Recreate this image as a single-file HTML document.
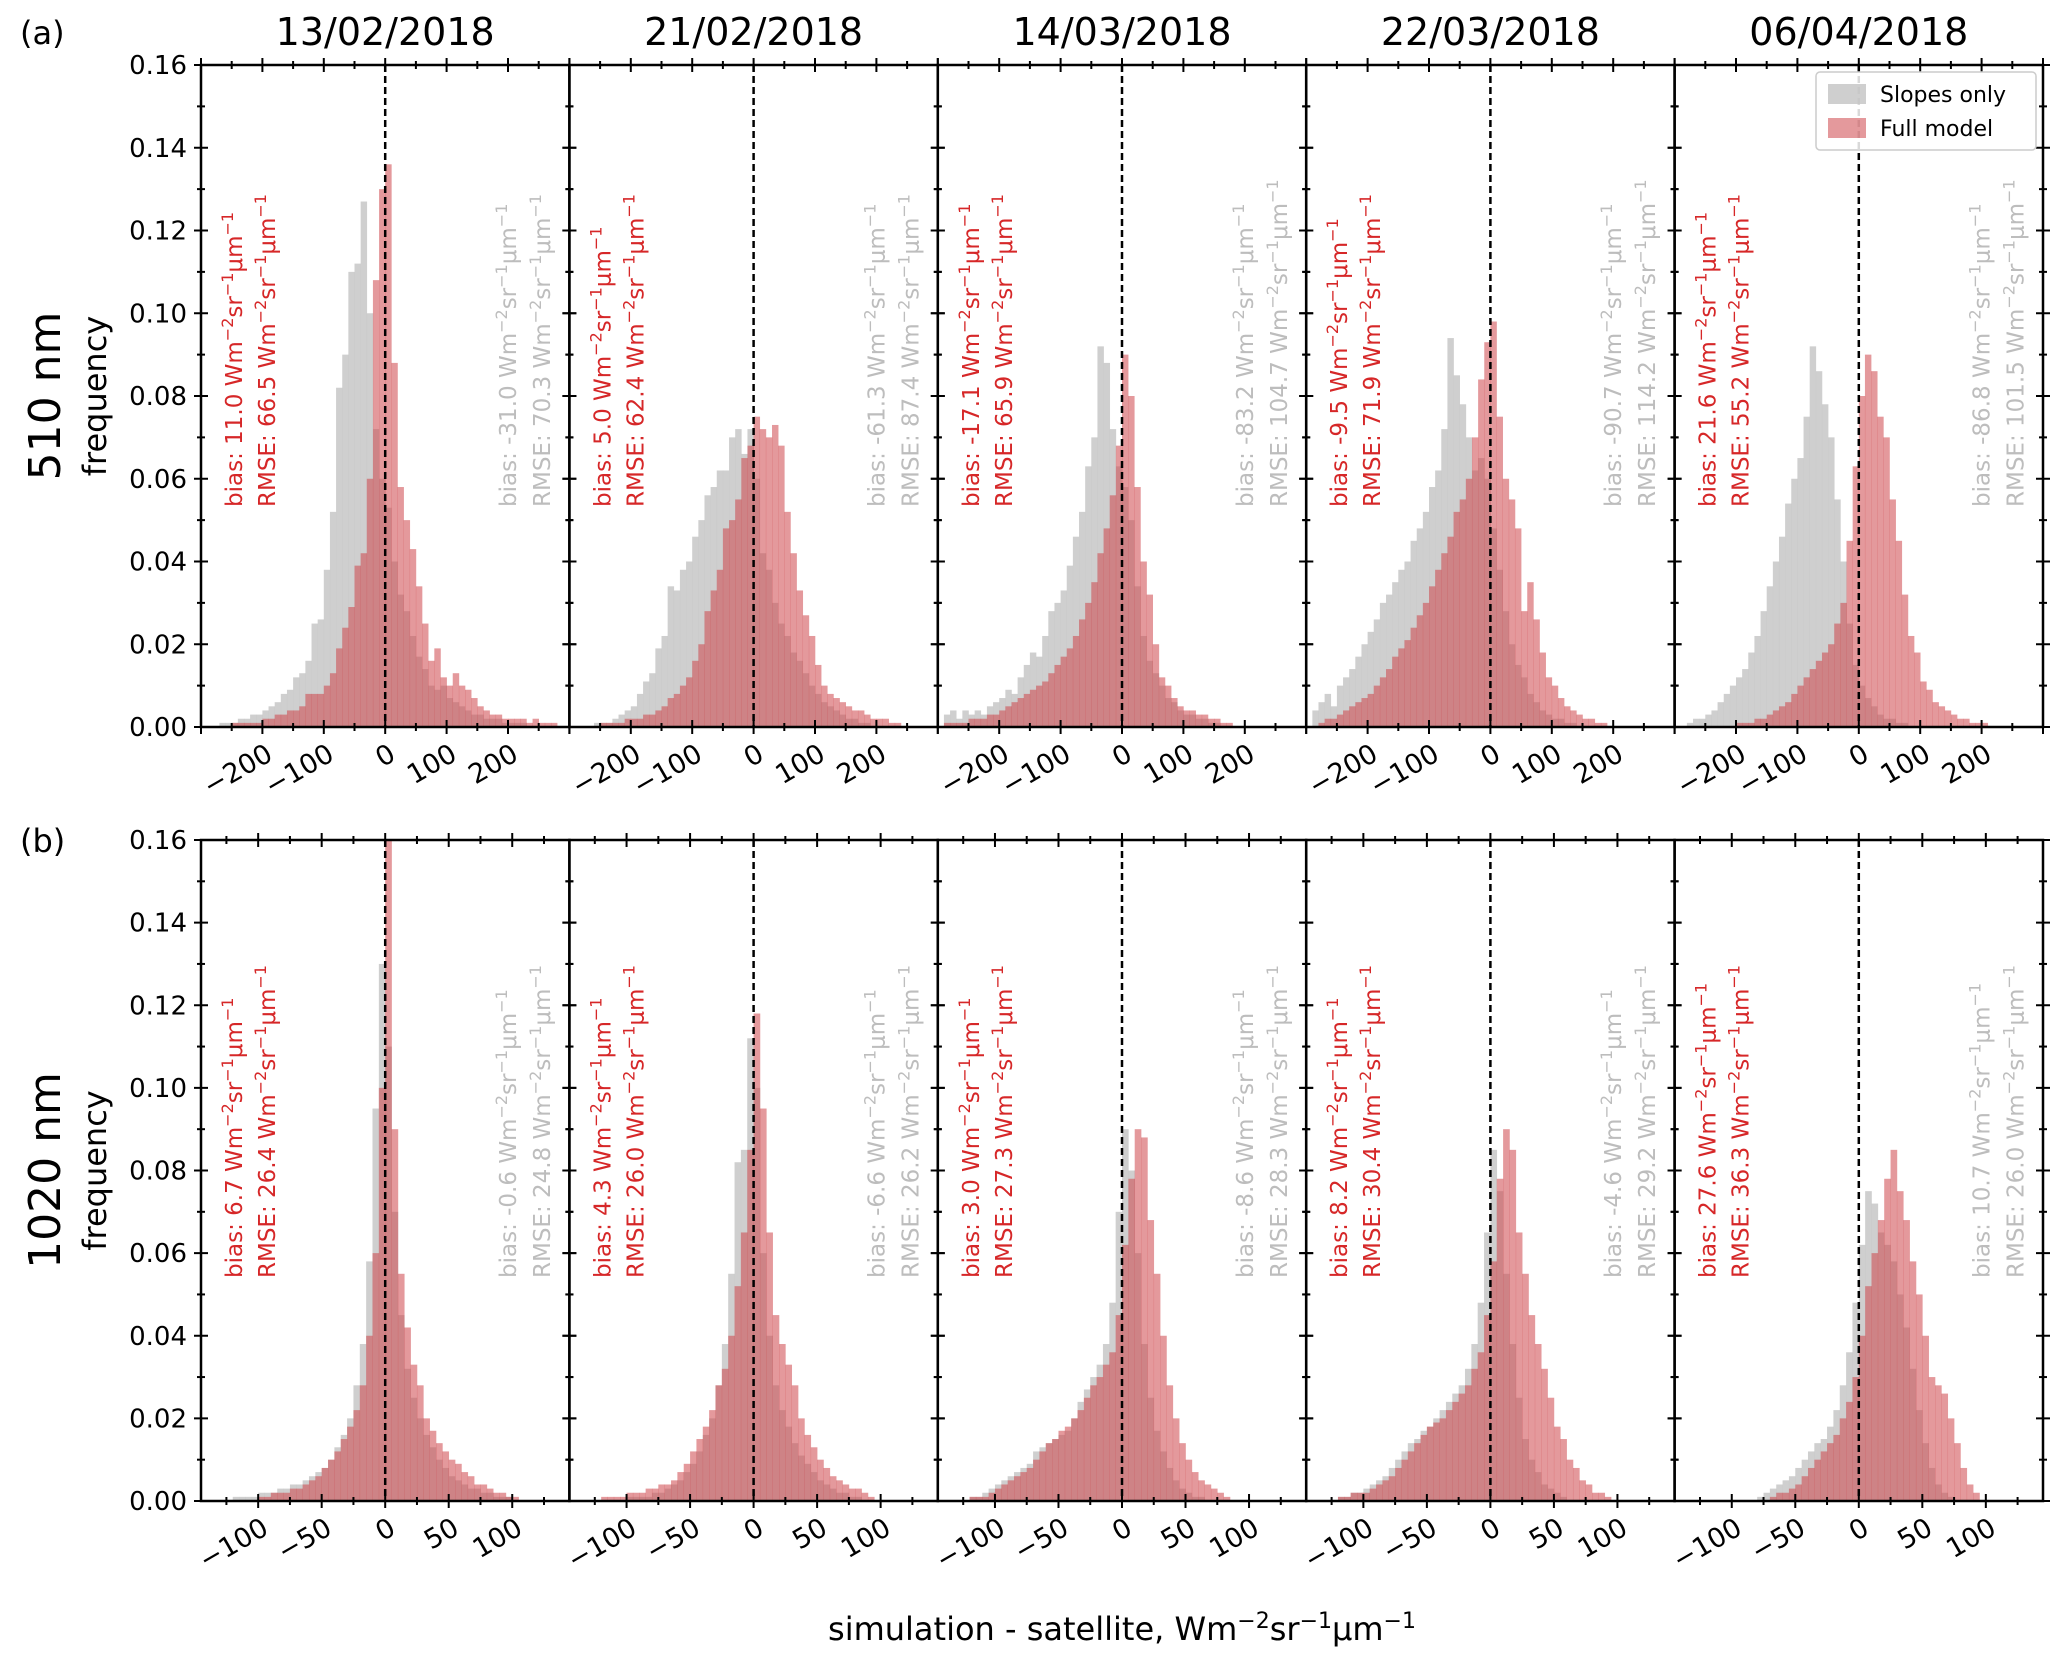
<!DOCTYPE html>
<html><head><meta charset="utf-8"><title>Histograms</title>
<style>
html,body{margin:0;padding:0;background:#fff;}
svg{display:block;font-family:"DejaVu Sans","Liberation Sans",sans-serif;}
</style></head>
<body>
<svg id="fig" xmlns="http://www.w3.org/2000/svg" width="2067" height="1669" viewBox="0 0 2067 1669"></svg>
<script>
// ---- data ----
const dates = ["13/02/2018","21/02/2018","14/03/2018","22/03/2018","06/04/2018"];
const rowLabels = ["510 nm","1020 nm"];
const panelLetters = ["(a)","(b)"];
const yTicks = [0,0.02,0.04,0.06,0.08,0.10,0.12,0.14,0.16];
const yTickLabels = ["0.00","0.02","0.04","0.06","0.08","0.10","0.12","0.14","0.16"];
const xTicks1 = [-200,-100,0,100,200];
const xTicks2 = [-100,-50,0,50,100];
// row1 bins: start -300, width 10 ; row2 bins: start -150, width 5 ; values in 1/1000
const bin1 = [-300,10];
const bin2 = [-150,5];
const a1Gray=[0,0,0,1,1,1,2,2,3,3,4,5,6,8,9,12,13,16,25,26,38,52,82,90,110,112,127,100,72,60,53,40,32,28,22,17,14,10,9,10,7,6,5,4,3,3,2,2,2,1,1,1,1];
const a1Red=[0,0,0,0,0,1,1,1,1,1,2,2,3,3,4,4,5,8,8,8,10,13,19,24,29,39,42,60,108,130,136,88,58,50,43,34,25,16,19,12,10,13,10,9,7,5,4,3,3,2,2,2,2,1,2,1,1,1,0,0];
const a2Gray=[0,0,0,0,1,1,1,2,3,4,5,8,11,13,19,22,34,33,38,40,46,50,56,58,62,62,70,72,66,72,60,42,38,30,25,22,18,16,13,10,8,6,5,4,3,2,2,1,1,0];
const a2Red=[0,0,0,0,0,1,1,1,1,2,2,2,3,3,4,5,7,8,10,12,16,20,28,33,38,48,50,55,65,68,75,72,70,73,68,52,42,33,27,22,15,10,8,7,6,5,4,4,3,2,2,2,1,1];
const a3Gray=[0,3,4,2,4,3,4,3,5,6,7,9,8,12,15,18,17,22,28,30,33,39,46,52,63,70,92,88,72,63,58,50,34,22,16,13,10,7,6,4,3,3,2,2,1,1];
const a3Red=[0,1,1,1,1,2,2,2,3,3,4,5,6,7,8,9,10,11,13,15,17,19,22,26,30,35,42,48,56,68,90,80,58,40,32,20,12,10,7,5,4,4,3,3,2,2,1,1];
const a4Gray=[0,4,6,8,5,10,12,14,17,20,23,26,30,32,35,38,40,45,48,52,58,62,72,94,85,78,70,62,65,60,48,38,28,20,15,12,8,6,4,3,2,2,1,1];
const a4Red=[0,0,1,2,2,3,4,5,6,7,8,10,12,14,17,19,21,24,27,30,34,38,42,46,52,55,60,70,84,93,98,75,60,55,48,28,35,26,18,12,10,7,5,4,3,2,2,1,1];
const a5Gray=[0,0,1,2,2,3,4,6,8,10,12,14,18,22,28,34,40,46,54,60,65,75,92,86,78,70,55,40,25,15,10,7,5,3,2,2,1,1];
const a5Red=[0,0,0,0,0,0,0,0,0,0,1,1,1,2,2,3,4,5,6,8,10,12,14,16,18,20,25,30,45,63,80,90,86,75,70,55,45,32,22,18,11,9,6,5,4,3,2,2,1,1,1];
const b1Gray=[0,0,0,0,0,0,1,1,1,1,2,2,2,3,3,4,4,5,6,7,8,10,13,16,20,28,38,58,95,130,110,70,45,32,25,20,16,13,10,8,6,5,4,3,3,2,2,1,1,1];
const b1Red=[0,0,0,0,0,0,0,0,0,0,1,1,2,2,2,3,3,4,5,6,8,10,12,15,18,22,28,40,60,100,160,90,55,42,33,28,20,17,14,12,10,9,7,6,4,4,3,2,2,1,1];
const b2Gray=[0,0,0,0,0,0,0,0,0,0,1,1,1,1,2,2,3,4,5,7,9,12,16,20,28,38,55,82,85,112,100,60,40,28,22,18,14,11,9,7,5,4,3,2,2,1,1];
const b2Red=[0,0,0,0,0,0,1,1,1,1,2,2,2,3,3,4,4,5,7,9,12,15,18,22,28,32,40,52,65,85,118,95,65,45,38,33,28,20,16,13,10,8,6,5,4,3,3,2,1];
const b3Gray=[0,0,0,0,0,0,1,1,2,3,4,5,6,7,8,9,12,13,14,15,16,17,20,24,27,30,33,38,48,70,90,80,60,38,25,17,12,8,5,3,2,1,1];
const b3Red=[0,0,0,0,0,0,1,1,1,2,3,4,5,6,7,8,10,12,14,15,17,18,20,22,25,28,30,33,36,45,62,78,90,88,68,55,40,28,20,14,10,7,5,4,3,2,1];
const b4Gray=[0,0,0,0,0,0,1,1,2,2,3,4,5,6,8,10,12,14,15,17,18,20,22,24,26,28,32,38,48,65,85,75,55,38,25,15,10,7,4,3,2,1];
const b4Red=[0,0,0,0,0,0,1,1,2,2,2,3,4,5,6,8,10,12,14,16,18,19,20,22,24,26,28,32,36,45,58,78,90,85,65,55,45,38,32,25,18,15,10,8,5,4,2,2,1];
const b5Gray=[0,0,0,0,0,0,0,0,0,0,0,0,0,0,1,2,3,4,5,6,8,10,12,14,15,18,22,28,36,48,62,75,72,65,62,58,50,42,32,22,14,8,4,2,1];
const b5Red=[0,0,0,0,0,0,0,0,0,0,0,0,0,0,0,0,1,2,2,3,4,6,8,10,12,14,16,20,24,30,40,52,60,68,78,85,75,68,58,50,40,30,28,26,20,14,8,4,2];
const grayRows=[[a1Gray,a2Gray,a3Gray,a4Gray,a5Gray],[b1Gray,b2Gray,b3Gray,b4Gray,b5Gray]];
const redRows=[[a1Red,a2Red,a3Red,a4Red,a5Red],[b1Red,b2Red,b3Red,b4Red,b5Red]];
const redBias=[["11.0","5.0","-17.1","-9.5","21.6"],["6.7","4.3","3.0","8.2","27.6"]];
const redRmse=[["66.5","62.4","65.9","71.9","55.2"],["26.4","26.0","27.3","30.4","36.3"]];
const grayBias=[["-31.0","-61.3","-83.2","-90.7","-86.8"],["-0.6","-6.6","-8.6","-4.6","10.7"]];
const grayRmse=[["70.3","87.4","104.7","114.2","101.5"],["24.8","26.2","28.3","29.2","26.0"]];

// ---- layout ----
const NS="http://www.w3.org/2000/svg";
const svg=document.getElementById('fig');
const L0=201, PW=368.4;
const rowsGeom=[{top:65,bot:727,xmin:-300,xmax:300,ticks:xTicks1,minor:50,bins:bin1},
                {top:840,bot:1501,xmin:-145,xmax:145,ticks:xTicks2,minor:25,bins:bin2}];
function mk(tag,attrs,parent){const e=document.createElementNS(NS,tag);for(const k in attrs)e.setAttribute(k,attrs[k]);(parent||svg).appendChild(e);return e;}
function fmt(v){return String(v).replace('-','\u2212');}

function unitText(parent,prefix,val,x,y,color,name){
  const t=mk('text',{transform:`translate(${x},${y}) rotate(-90)`,fill:color,'font-size':23},parent);
  
  
  const parts=[[prefix+val+' Wm',0,23],['\u22122',-9,16],['sr',9,23],['\u22121',-9,16],['\u03bcm',9,23],['\u22121',-9,16]];
  parts.forEach(p=>{const s=mk('tspan',{dy:p[1],'font-size':p[2]},t);s.textContent=p[0];});
}

rowsGeom.forEach((g,r)=>{
  const H=g.bot-g.top;
  const yS=v=>g.bot-v/0.16*H;
  for(let c=0;c<5;c++){
    const left=L0+c*PW, right=left+PW;
    const xS=v=>left+(v-g.xmin)/(g.xmax-g.xmin)*PW;
    const grp=mk('g',{});
    
    
    const clipId=`clip${r}${c}`;
    const cp=mk('clipPath',{id:clipId},grp);mk('rect',{x:left,y:g.top,width:PW,height:H},cp);
    const bars=mk('g',{'clip-path':`url(#${clipId})`},grp);
    [[grayRows[r][c],'rgb(196,196,196)',0.82,'gray-bar'],[redRows[r][c],'rgb(205,70,75)',0.55,'red-bar']].forEach(([arr,col,op,nm])=>{
      arr.forEach((v,i)=>{ if(!v) return;
        const x0=g.bins[0]+i*g.bins[1], x1=x0+g.bins[1];
        const b=mk('rect',{x:xS(x0),y:yS(v/1000),width:xS(x1)-xS(x0)+0.3,height:g.bot-yS(v/1000),fill:col,'fill-opacity':op},bars);
        
        
      });
    });
    const zl=mk('line',{x1:xS(0),x2:xS(0),y1:g.top,y2:g.bot,stroke:'#000','stroke-width':2.5,'stroke-dasharray':'7,4'},grp);
    
    
    mk('rect',{x:left,y:g.top,width:PW,height:H,fill:'none',stroke:'#000','stroke-width':2.5},grp);
    for(let k=0;k<=16;k++){const v=k*0.01,y=yS(v),len=(k%2===0)?7:4;
      mk('line',{x1:left-len,x2:left+len,y1:y,y2:y,stroke:'#000','stroke-width':2},grp);
      mk('line',{x1:right-len,x2:right+len,y1:y,y2:y,stroke:'#000','stroke-width':2},grp);}
    for(let v=Math.ceil(g.xmin/g.minor)*g.minor;v<=g.xmax;v+=g.minor){const x=xS(v),len=(v%(g.minor*2)===0)?7:4;
      mk('line',{x1:x,x2:x,y1:g.bot-len,y2:g.bot+len,stroke:'#000','stroke-width':2},grp);
      mk('line',{x1:x,x2:x,y1:g.top-len,y2:g.top+len,stroke:'#000','stroke-width':2},grp);}
    g.ticks.forEach(v=>{const x=xS(v);
      const t=mk('text',{transform:`translate(${x+12},${g.bot+32}) rotate(-30)`,'text-anchor':'end','font-size':27,fill:'#000'},grp);
      t.textContent=fmt(v);
      
      });
    if(c===0){yTicks.forEach((v,k)=>{const t=mk('text',{x:left-14,y:yS(v)+9,'text-anchor':'end','font-size':26,fill:'#000'},grp);
      t.textContent=yTickLabels[k];
      
      });}
    if(r===0){const t=mk('text',{x:left+PW/2,y:45,'text-anchor':'middle','font-size':38,fill:'#000'},grp);t.textContent=dates[c];
      
      }
    const ay=r===0?507:1278;
    unitText(grp,'bias: ',redBias[r][c],left+41,ay,'#d62728','full-model-bias');
    unitText(grp,'RMSE: ',redRmse[r][c],left+74,ay,'#d62728','full-model-rmse');
    unitText(grp,'bias: ',grayBias[r][c],left+315,ay,'#bdbdbd','slopes-bias');
    unitText(grp,'RMSE: ',grayRmse[r][c],left+349,ay,'#bdbdbd','slopes-rmse');
  }
  const cy=(g.top+g.bot)/2;
  const fq=mk('text',{transform:`translate(106,${cy}) rotate(-90)`,'text-anchor':'middle','font-size':32,fill:'#000'});
  fq.textContent='frequency';
  
  
  const rl=mk('text',{transform:`translate(60,${cy}) rotate(-90)`,'text-anchor':'middle','font-size':44,fill:'#000'});
  rl.textContent=rowLabels[r];
  
  
  const pl=mk('text',{x:20,y:r===0?44:852,'font-size':32,fill:'#000'});
  pl.textContent=panelLetters[r];
  
  
});

const lg=mk('g',{});


mk('rect',{x:1816,y:72,width:220,height:78,rx:4,fill:'#fff','fill-opacity':0.85,stroke:'#ccc','stroke-width':1.5},lg);
mk('rect',{x:1828,y:84,width:38,height:20,fill:'rgb(196,196,196)','fill-opacity':0.82},lg);
mk('rect',{x:1828,y:118,width:38,height:20,fill:'rgb(205,70,75)','fill-opacity':0.55},lg);
const l1=mk('text',{x:1880,y:102,'font-size':22,fill:'#000'},lg);l1.textContent='Slopes only';


const l2=mk('text',{x:1880,y:136,'font-size':22,fill:'#000'},lg);l2.textContent='Full model';



const xt=mk('text',{x:1122,y:1640,'text-anchor':'middle','font-size':32,fill:'#000'});


[['simulation - satellite, Wm',0,32],['\u22122',-12,22],['sr',12,32],['\u22121',-12,22],['\u03bcm',12,32],['\u22121',-12,22]].forEach(p=>{
  const s=mk('tspan',{dy:p[1],'font-size':p[2]},xt);s.textContent=p[0];});
</script>
</body></html>
